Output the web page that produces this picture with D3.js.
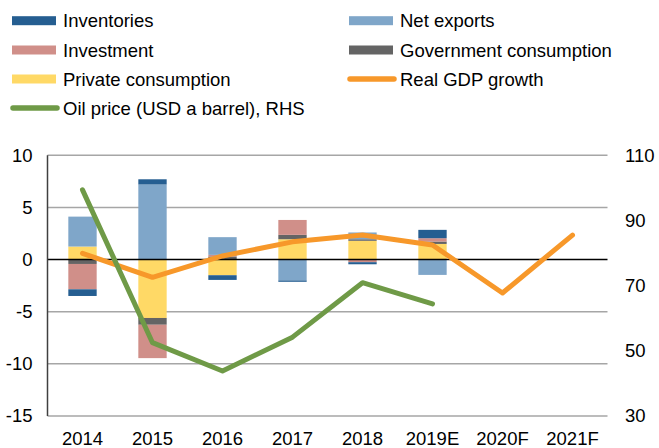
<!DOCTYPE html>
<html>
<head>
<meta charset="utf-8">
<script src="https://cdn.jsdelivr.net/npm/d3@7"></script>
<style>
body { margin: 0; background: #fff; }
text { font-family: "Liberation Sans", Arial, sans-serif; fill: #000; }
</style>
</head>
<body>
<div id="chart"></div>
<script>
'use strict';

// data
var years = ["2014", "2015", "2016", "2017", "2018", "2019E", "2020F", "2021F"];
var privateCons = [1.25, -5.6, -1.5, 1.95, 1.8, 1.5, null, null];
var govCons     = [-0.42, -0.65, 0.3, 0.42, 0.15, 0.23, null, null];
var investment  = [-2.43, -3.2, 0.15, 1.43, -0.25, 0.32, null, null];
var netExports  = [2.87, 7.2, 1.7, -2.0, 0.65, -1.47, null, null];
var inventories = [-0.64, 0.5, -0.45, -0.13, -0.2, 0.8, null, null];
var gdpGrowth   = [0.6, -1.7, 0.35, 1.7, 2.35, 1.4, -3.2, 2.35];
var oilPrice    = [99.4, 52.5, 43.8, 54.2, 70.9, 64.4, null, null];
var leftTicks  = [10, 5, 0, -5, -10, -15];
var rightTicks = [110, 90, 70, 50, 30];

var colors = {
    inventories: "#255e91",
    netExports: "#7fa6c9",
    investment: "#d08f89",
    govCons: "#646464",
    privateCons: "#ffd966",
    gdp: "#f7982a",
    oil: "#6f9a47"
};

var W = 659, H = 448, FS = "18.5px";
var L = 47.5, R = 607.5, TOP = 155.3, BOT = 416;
var svg = d3.select("#chart").append("svg").attr("width", W).attr("height", H);

var x = d3.scaleBand().domain(years).range([L, R]).paddingInner(0.595).paddingOuter(0.2975);
var xc = function(d) { return x(d) + x.bandwidth() / 2; };
var y = d3.scaleLinear().domain([-15, 10]).range([BOT, TOP]);
var y2 = d3.scaleLinear().domain([30, 110]).range([BOT, TOP]);

// gridlines
svg.append("g").selectAll("line").data(leftTicks.filter(function(d) { return d !== 0; }))
    .enter().append("line")
    .attr("x1", L).attr("x2", R)
    .attr("y1", function(d) { return y(d); }).attr("y2", function(d) { return y(d); })
    .attr("stroke", "#a6a6a6").attr("stroke-width", 1.5);

// stacked bars
var keys = ["privateCons", "govCons", "investment", "netExports", "inventories"];
var table = years.map(function(yr, i) {
    return { year: yr, privateCons: privateCons[i] || 0, govCons: govCons[i] || 0,
             investment: investment[i] || 0, netExports: netExports[i] || 0,
             inventories: inventories[i] || 0 };
});
var series = d3.stack().keys(keys).offset(d3.stackOffsetDiverging)(table);

svg.append("g").selectAll("g").data(series).enter().append("g")
    .attr("fill", function(s) { return colors[s.key]; })
    .selectAll("rect").data(function(s) { return s; }).enter().append("rect")
    .attr("x", function(d) { return x(d.data.year); })
    .attr("width", x.bandwidth())
    .attr("y", function(d) { return y(Math.max(d[0], d[1])); })
    .attr("height", function(d) { return Math.abs(y(d[0]) - y(d[1])); });

// zero line + left axis line
svg.append("line").attr("x1", L).attr("x2", R).attr("y1", y(0)).attr("y2", y(0))
    .attr("stroke", "#000").attr("stroke-width", 1.5);
svg.append("line").attr("x1", L).attr("x2", L).attr("y1", y(10)).attr("y2", y(-15))
    .attr("stroke", "#404040").attr("stroke-width", 1.5);

// lines
var gdpLine = d3.line().x(function(d, i) { return xc(years[i]); }).y(function(d) { return y(d); });
svg.append("path").datum(gdpGrowth).attr("d", gdpLine)
    .attr("fill", "none").attr("stroke", colors.gdp).attr("stroke-width", 5)
    .attr("stroke-linejoin", "round").attr("stroke-linecap", "round");

var oilLine = d3.line().defined(function(d) { return d !== null; })
    .x(function(d, i) { return xc(years[i]); }).y(function(d) { return y2(d); });
svg.append("path").datum(oilPrice).attr("d", oilLine)
    .attr("fill", "none").attr("stroke", colors.oil).attr("stroke-width", 5)
    .attr("stroke-linejoin", "round").attr("stroke-linecap", "round");

// axes labels
var plain = function(d) { return String(d); };
var left = d3.axisLeft(y).tickValues(leftTicks).tickFormat(plain).tickSize(0).tickPadding(15);
var gl = svg.append("g").attr("transform", "translate(" + L + ",0)").call(left);
gl.select(".domain").remove();

var right = d3.axisRight(y2).tickValues(rightTicks).tickFormat(plain).tickSize(0).tickPadding(17.5);
var gr = svg.append("g").attr("transform", "translate(" + R + ",0)").call(right);
gr.select(".domain").remove();

var bottom = d3.axisBottom(x).tickSize(0).tickPadding(15.5);
var gb = svg.append("g").attr("transform", "translate(0," + BOT + ")").call(bottom);
gb.select(".domain").remove();

svg.selectAll(".tick text").style("font-size", FS).style("font-family", "Liberation Sans, Arial");

// legend
var legend = [
    { name: "Inventories", key: "inventories", type: "box", col: 0, row: 0 },
    { name: "Net exports", key: "netExports", type: "box", col: 1, row: 0 },
    { name: "Investment", key: "investment", type: "box", col: 0, row: 1 },
    { name: "Government consumption", key: "govCons", type: "box", col: 1, row: 1 },
    { name: "Private consumption", key: "privateCons", type: "box", col: 0, row: 2 },
    { name: "Real GDP growth", key: "gdp", type: "line", col: 1, row: 2 },
    { name: "Oil price (USD a barrel), RHS", key: "oil", type: "line", col: 0, row: 3 }
];
var colX = [12, 349], rowY = [20.7, 50, 79, 108];
var lg = svg.append("g").selectAll("g").data(legend).enter().append("g")
    .attr("transform", function(d) { return "translate(" + colX[d.col] + "," + rowY[d.row] + ")"; });
lg.filter(function(d) { return d.type === "box"; }).append("rect")
    .attr("x", 0).attr("y", -4.5).attr("width", 44).attr("height", 9)
    .attr("fill", function(d) { return colors[d.key]; });
lg.filter(function(d) { return d.type === "line"; }).append("line")
    .attr("x1", 1).attr("x2", 45).attr("y1", 0).attr("y2", 0)
    .attr("stroke", function(d) { return colors[d.key]; })
    .attr("stroke-width", 5.5).attr("stroke-linecap", "round");
lg.append("text").attr("x", 51).attr("y", 6.5)
    .style("font-size", FS)
    .text(function(d) { return d.name; });
</script>
</body>
</html>
